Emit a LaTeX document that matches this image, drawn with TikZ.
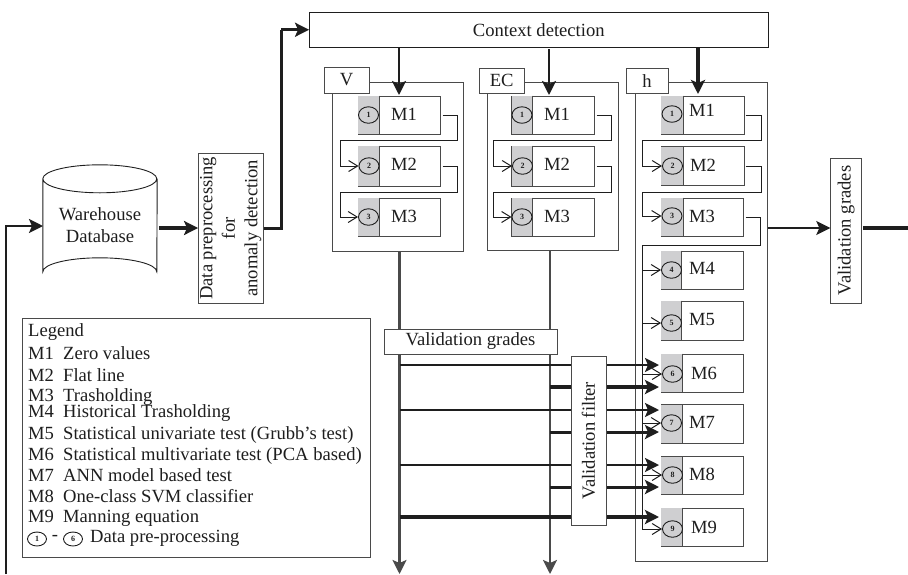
\documentclass[tikz,border=0pt]{standalone}
\usepackage{fontspec}
\setmainfont{Liberation Serif}
\usetikzlibrary{arrows.meta,shapes.geometric}
\definecolor{ink}{HTML}{1E1E1E}
\definecolor{edge}{HTML}{4A4A4A}
\definecolor{greyfill}{HTML}{CFCFD1}
\tikzset{
  every node/.style={text=ink,font=\fontsize{18.6}{22}\selectfont,inner sep=0pt},
  box/.style={draw=ink,line width=.9pt,fill=white,rectangle,align=center},
  greybox/.style={box,draw=edge},
  panel/.style={greybox,line width=1pt},
  method/.style={greybox,line width=1pt},
  numcirc/.style={draw=ink,ellipse,line width=.9pt,minimum width=20pt,minimum height=16.5pt,fill=none,font=\bfseries\fontsize{8}{8}\selectfont},
  link/.style={draw=ink,line width=1pt,rounded corners=0pt},
  thin arrow/.style={link,-{Straight Barb[length=9pt,width=11pt]}},
  bigtip/.style={-{Stealth[length=14pt,width=14pt,inset=3pt]}},
  w1/.style={draw=ink,line width=1.8pt},
  w2/.style={draw=ink,line width=2.4pt},
  w3/.style={draw=ink,line width=3pt},
  w4/.style={draw=ink,line width=3.8pt},
  legendline/.style={anchor=west,font=\fontsize{18.6}{20}\selectfont}
}
% name, cx, cy, w, h, grey width, label x, label y, label
\newcommand{\methodbox}[9]{%
  \node[method,minimum width=#4pt,minimum height=#5pt] (#1) at (#2,#3) {};
  \fill[greyfill] ([xshift=.6pt,yshift=-.6pt]#1.north west) rectangle ([xshift=#6pt,yshift=.6pt]#1.south west);
  \draw[edge,line width=1pt] ([xshift=#6pt]#1.north west) -- ([xshift=#6pt]#1.south west);
  \node[anchor=center] (#1t) at (#7,#8) {#9};
}
\newcommand{\numcircle}[4]{\node[numcirc] (#1) at (#2,#3) {#4};}
\begin{document}
\begin{tikzpicture}[x=1pt,y=-1pt]
\useasboundingbox (0,0) rectangle (908,574);

% database
\node[align=center,minimum width=114pt,minimum height=121pt] (db) at (100,225.5) {Warehouse\\Database};
\draw[ink,line width=.9pt] (db.north west)++(0,14) coordinate (dbtl) (db.north east)++(0,14) coordinate (dbtr)
  (dbtl) -- ++(0,93) arc[start angle=180,end angle=360,x radius=57,y radius=14] -- (dbtr)
  (dbtl) arc[start angle=180,end angle=-180,x radius=57,y radius=14];

% top row
\node[box,minimum width=458.5pt,minimum height=34.5pt] (ctx) at (538.75,29.75) {Context detection};
\node[greybox,rotate=90,minimum width=149.5pt,minimum height=64.5pt,font=\fontsize{18.6}{22.5}\selectfont] (pre) at (230.75,228.25) {Data preprocessing\\for\\anomaly detection};
\coordinate (dbout) at (159,228);
\coordinate (preout) at (263.5,228);
\coordinate (preup) at (281,228);
\coordinate (fb) at (6,574);
\coordinate (dbin) at (43,226);
\draw[w3] (preout) -- (preup) -- (preup |- ctx.west);
\draw[w3,bigtip] (preup |- ctx.west) -- (ctx.west);
\draw[w4,bigtip] (dbout) -- (pre.north |- dbout);
\draw[w2,bigtip] (fb) |- (dbin);

% panels
\node[panel,minimum width=131pt,minimum height=169pt] (vp) at (397.5,166.5) {};
\node[panel,minimum width=131pt,minimum height=168pt] (ep) at (552.5,166) {};
\node[panel,minimum width=132pt,minimum height=478.5pt] (hp) at (701,321.75) {};
\node[greybox,minimum width=45pt,minimum height=26pt] (vl) at (346.5,80) {V};
\node[greybox,minimum width=44.5pt,minimum height=25pt] (el) at (501.75,80.5) {EC};
\node[greybox,minimum width=42pt,minimum height=24.5pt] (hl) at (647,80.75) {h};

% V methods
\methodbox{v1}{399}{115}{82}{38}{21.5}{404}{114}{M1}
\methodbox{v2}{399}{166}{82}{40}{21.5}{404}{164}{M2}
\methodbox{v3}{399}{217}{82}{38}{21.5}{404}{216}{M3}
\numcircle{v1c}{368.5}{115}{1}\numcircle{v2c}{369}{166}{2}\numcircle{v3c}{368.5}{217}{3}
% EC methods
\methodbox{e1}{552.75}{115}{82.5}{38}{21.5}{557}{114}{M1}
\methodbox{e2}{552.75}{166}{82.5}{40}{21.5}{557}{164}{M2}
\methodbox{e3}{552.75}{217}{82.5}{38}{21.5}{557}{216}{M3}
\numcircle{e1c}{522}{115}{1}\numcircle{e2c}{522.5}{166}{2}\numcircle{e3c}{522}{217}{3}
% h methods
\methodbox{h1}{702.75}{115}{83.5}{38}{22.5}{702}{110}{M1}
\methodbox{h2}{702.75}{166}{83.5}{39}{22.5}{703}{165}{M2}
\methodbox{h3}{702}{217}{82}{38}{22.5}{702}{216}{M3}
\methodbox{h4}{702}{270}{82}{38}{21}{702}{268}{M4}
\methodbox{h5}{702}{320.5}{82}{39}{21}{702}{319}{M5}
\methodbox{h6}{702}{373}{82}{38}{21.5}{704}{373}{M6}
\methodbox{h7}{702}{423.75}{82}{38.5}{21.5}{702}{422}{M7}
\methodbox{h8}{702}{475.25}{82}{37.5}{21.5}{702}{474}{M8}
\methodbox{h9}{702}{527}{82}{38}{21.5}{704}{527}{M9}
\numcircle{h1c}{672}{114}{1}\numcircle{h2c}{672.5}{166}{2}\numcircle{h3c}{672}{216}{3}
\numcircle{h4c}{671.5}{270}{4}\numcircle{h5c}{671.5}{323}{5}\numcircle{h6c}{672.5}{374}{6}
\numcircle{h7c}{671.5}{423}{7}\numcircle{h8c}{672.5}{475}{8}\numcircle{h9c}{672.5}{529}{9}

% arrows from context detection
\coordinate (vtop) at (399,47); \coordinate (vtip) at (399,95);
\coordinate (etop) at (549,49); \coordinate (etip) at (549,95);
\coordinate (htop) at (698,47); \coordinate (htip) at (698,94);
\draw[w2,bigtip] (vtop) -- (vtip);
\draw[w2,bigtip] (etop) -- (etip);
\draw[w3,line width=3.4pt,bigtip] (htop) -- (htip);

% serpentine links
\coordinate (vr1) at (457,140); \coordinate (vl1) at (340,140);
\coordinate (vr2) at (457,192); \coordinate (vl2) at (340,192);
\coordinate (er1) at (611,140); \coordinate (el1) at (493.5,140);
\coordinate (er2) at (611,192); \coordinate (el2) at (493.5,192);
\coordinate (hr1) at (761,140); \coordinate (hl1) at (642,140);
\coordinate (hr2) at (761,192); \coordinate (hl2) at (642,192);
\coordinate (hr3) at (760,245); \coordinate (hl3) at (642,245);
\draw[link,shorten <=2pt] (v1.east) -| (vr1) -- (vl1);
\draw[thin arrow] (vl1) |- (v2c.west);
\draw[link,shorten <=2pt] (v2.east) -| (vr2) -- (vl2);
\draw[thin arrow] (vl2) |- (v3c.west);
\draw[link,shorten <=2pt] (e1.east) -| (er1) -- (el1);
\draw[thin arrow] (el1) |- (e2c.west);
\draw[link,shorten <=2pt] (e2.east) -| (er2) -- (el2);
\draw[thin arrow] (el2) |- (e3c.west);
\draw[link,shorten <=.5pt] (h1.east) -| (hr1) -- (hl1);
\draw[thin arrow] (hl1) |- (h2c.west);
\draw[link,shorten <=.5pt] (h2.east) -| (hr2) -- (hl2);
\draw[thin arrow] (hl2) |- (h3c.west);
\draw[link,shorten <=2pt] (h3.east) -| (hr3) -- (hl3);
\draw[thin arrow] (hl3) |- (h4c.west);
\draw[thin arrow] (hl3) |- (h5c.west);
\draw[thin arrow] (hl3) |- (h6c.west);
\draw[thin arrow] (hl3) |- (h7c.west);
\draw[thin arrow] (hl3) |- (h8c.west);
\draw[thin arrow] (hl3) |- (h9c.west);

% outgoing grades
\node[greybox,rotate=90,minimum width=145pt,minimum height=31pt] (vgr) at (846.25,230.5) {Validation grades};
\coordinate (grend) at (908,228);
\draw[w1,bigtip] (hp.east |- grend) -- (vgr.north |- grend);
\draw[w4] (vgr.south |- grend) ++(1,0) -- (grend);

% trunks
\coordinate (vbot) at (399.5,574); \coordinate (ebot) at (550,574);
\draw[w2,draw=edge,bigtip] (vp.south -| vbot) -- (vbot);
\draw[w2,draw=edge,bigtip] (ep.south -| ebot) -- (ebot);

% branches to the multivariate methods
\coordinate (a6) at (659,365); \coordinate (b6) at (659,387);
\coordinate (a7) at (659,410); \coordinate (b7) at (659,432);
\coordinate (a8) at (659,465); \coordinate (b8) at (659,487);
\coordinate (a9) at (659,517);
\draw[w1,line width=2.2pt,bigtip] (vbot |- a6) -- (a6);
\draw[w4,bigtip] (ebot |- b6) -- (b6);
\draw[w1,line width=2pt,bigtip] (vbot |- a7) -- (a7);
\draw[w3,bigtip] (ebot |- b7) -- (b7);
\draw[w1,line width=2pt,bigtip] (vbot |- a8) -- (a8);
\draw[w3,bigtip] (ebot |- b8) -- (b8);
\draw[w4,bigtip] (vbot |- a9) -- (a9);

\node[greybox,minimum width=173pt,minimum height=25pt] (vg) at (470.5,341.5) {Validation grades};
\node[greybox,rotate=90,minimum width=169pt,minimum height=35pt] (vf) at (588.5,440.5) {Validation filter};

% legend
\node[greybox,minimum width=348pt,minimum height=239pt] (leg) at (196,437.5) {};
\newcommand{\legrow}[3]{\node[legendline] (#1) at (28,#2) {#3};}
\newcommand{\mrow}[4]{\node[legendline] (#1) at (28,#2) {\makebox[35pt][l]{#3}#4};}
\legrow{l0}{332}{Legend}
\mrow{l1}{353}{M1}{Zero values}
\mrow{l2}{375}{M2}{Flat line}
\mrow{l3}{397}{M3}{Trasholding}
\mrow{l4}{413}{M4}{Historical Trasholding}
\mrow{l5}{435}{M5}{Statistical univariate test (Grubb’s test)}
\mrow{l6}{456}{M6}{Statistical multivariate test (PCA based)}
\mrow{l7}{475}{M7}{ANN model based test}
\mrow{l8}{496}{M8}{One-class SVM classifier}
\mrow{l9}{518}{M9}{Manning equation}
\node[numcirc,minimum width=19pt,minimum height=14pt] (lc1) at (37,539) {1};
\node (ldash) at (55,538) {-};
\node[numcirc,minimum width=19pt,minimum height=14pt] (lc6) at (73,539) {6};
\node[legendline] (lt) at (90,538) {Data pre-processing};
\end{tikzpicture}
\end{document}
